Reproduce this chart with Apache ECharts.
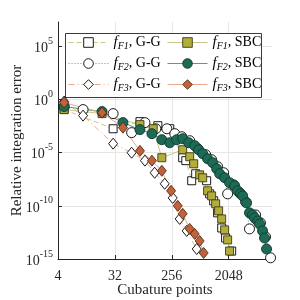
<!DOCTYPE html>
<html><head><meta charset="utf-8">
<script src="https://cdn.jsdelivr.net/npm/echarts@6/dist/echarts.min.js"></script>
<style>html,body{margin:0;padding:0;background:#fff}#c{width:300px;height:300px}</style>
</head><body><div id="c"></div>
<script>
const xTicks = [4, 32, 256, 2048];
const yTicks = [1e-15, 1e-10, 1e-5, 1, 1e5];

const f1ggN   = [5, 30, 80, 154, 238, 382, 428, 531, 614, 917, 1024, 1185, 1370, 1590, 1833, 2290];
const f1ggErr = [0.115, 1.8e-3, 8.4e-3, 3.5e-3, 1.8e-3, 3.4e-6, 1.8e-6, 2.3e-8, 1.05e-7, 2.3e-8, 1.35e-9, 3.0e-10, 2.2e-11, 8.3e-13, 9.5e-14, 5.6e-15];

const f2ggN   = [5, 10, 30, 59, 96, 143, 214, 286, 369, 494, 661, 885, 1100, 1370, 1709, 1975, 2456, 3060, 3800, 4390, 5485, 6565, 7900, 9485];
const f2ggErr = [0.22, 0.115, 0.048, 7.8e-4, 6.8e-3, 1.8e-3, 1.8e-3, 6.2e-4, 3.2e-4, 1.35e-4, 2.4e-5, 6.5e-6, 2.2e-6, 4.8e-7, 1.3e-7, 1.35e-9, 9.5e-9, 1.7e-9, 2.4e-10, 6.8e-13, 1.4e-11, 2.5e-12, 1.2e-13, 1.3e-15];

const f3ggN   = [5, 10, 30, 59, 96, 137, 198, 265, 342, 442, 638];
const f3ggErr = [0.65, 0.031, 7.1e-5, 1.0e-5, 1.8e-6, 1.3e-7, 1.2e-8, 5.6e-10, 5.9e-12, 4.4e-13, 8.7e-15];

const f1sbcN   = [5, 20, 80, 130, 178, 382, 494, 571, 710, 793, 949, 1100, 1276, 1420, 1587, 1770, 1975, 2120];
const f1sbcErr = [0.115, 0.048, 4.4e-3, 1.8e-3, 3.4e-6, 1.9e-5, 4.2e-6, 9.1e-7, 8.3e-8, 4.4e-8, 2.6e-9, 8.7e-10, 1.55e-10, 3.4e-11, 5.9e-12, 5.5e-13, 6.3e-14, 5.6e-15];

const f2sbcN   = [5, 20, 43, 80, 124, 178, 238, 307, 382, 475, 592, 685, 793, 949, 1144, 1322, 1475, 1770, 2120, 2553, 2840, 3170, 3420, 3950, 4390, 4907, 5290, 5912, 6340, 7080, 7600, 8192];
const f2sbcErr = [0.22, 0.074, 6.8e-3, 1.5e-3, 6.2e-4, 1.7e-4, 8.7e-5, 1.7e-4, 2.1e-4, 8.7e-5, 4.6e-5, 1.9e-5, 8.1e-6, 2.7e-6, 1.15e-6, 3.1e-7, 1.05e-7, 4.4e-8, 1.5e-8, 7.8e-9, 2.6e-9, 1.35e-9, 8.7e-10, 1.9e-10, 2.2e-11, 1.4e-11, 7.4e-12, 3.8e-12, 2.0e-12, 4.4e-13, 9.5e-14, 8.7e-15];

const f3sbcN   = [5, 20, 43, 80, 124, 178, 250, 319, 382, 494, 592, 710, 822];
const f3sbcErr = [0.52, 0.059, 2.3e-3, 1.5e-5, 1.8e-6, 2.0e-7, 2.6e-9, 1.0e-10, 1.8e-11, 6.8e-13, 2.3e-13, 5.0e-14, 3.7e-15];

function pairs(xs, ys) { return xs.map((x, i) => [x, ys[i]]); }

const FONT = 'Liberation Serif';
const C1 = '#b3ad3a', C1e = '#3d3b14', C1l = '#ccc68a';
const C2 = '#1d6b56', C2e = '#0e3a2d', C2l = '#5d9a88';
const C3 = '#c0623a', C3e = '#5b2b16', C3l = '#e6ab8e';

function mk(name, xs, ys, symbol, size, fill, edge, lcolor, ltype) {
  return {
    name, type: 'line', data: pairs(xs, ys), symbol, symbolSize: size,
    showAllSymbol: true, animation: false,
    itemStyle: { color: fill, borderColor: edge, borderWidth: 0.9 },
    lineStyle: { color: lcolor, width: 1, type: ltype },
    emphasis: { disabled: true }
  };
}

const labelMap = {
  'F1 G-G': ['F1', 'G-G'], 'F2 G-G': ['F2', 'G-G'], 'F3 G-G': ['F3', 'G-G'],
  'F1 SBC': ['F1', 'SBC'], 'F2 SBC': ['F2', 'SBC'], 'F3 SBC': ['F3', 'SBC']
};
const legendText = {
  fontFamily: FONT, fontSize: 14, color: '#000',
  rich: {
    i: { fontFamily: FONT, fontSize: 15, fontStyle: 'italic', color: '#000', lineHeight: 18 },
    sub: { fontFamily: FONT, fontSize: 10, fontStyle: 'italic', color: '#000', lineHeight: 10, verticalAlign: 'bottom' },
    t: { fontFamily: FONT, fontSize: 14, color: '#000', lineHeight: 18 }
  }
};
function legendFmt(name) {
  const p = labelMap[name];
  return '{i|f}{sub|' + p[0] + '}{t|, ' + p[1] + '}';
}
const legendBase = {
  orient: 'vertical', top: 35, padding: 0, itemWidth: 40, itemHeight: 12, itemGap: 4.5,
  formatter: legendFmt, textStyle: legendText, selectedMode: false,
  itemStyle: { borderWidth: 0.9 }, lineStyle: { width: 1 }
};

const chart = echarts.init(document.getElementById('c'), null, { renderer: 'canvas' });
chart.setOption({
  animation: false,
  backgroundColor: '#fff',
  grid: { left: 58, right: 28, top: 22, bottom: 41, outerBoundsMode: 'none' },
  graphic: [{
    type: 'rect', z: 1,
    shape: { x: 65.5, y: 33.5, width: 196, height: 64 },
    style: { fill: '#fff', stroke: '#3a3a3a', lineWidth: 1 }
  }],
  legend: [
    Object.assign({}, legendBase, { left: 68, data: ['F1 G-G', 'F2 G-G', 'F3 G-G'] }),
    Object.assign({}, legendBase, { left: 167, data: ['F1 SBC', 'F2 SBC', 'F3 SBC'] })
  ],
  xAxis: {
    type: 'log', logBase: 2, min: 4, max: 10000,
    name: 'Cubature points', nameLocation: 'middle', nameGap: 24, nameMoveOverlap: false,
    nameTextStyle: { fontFamily: FONT, fontSize: 15, color: '#262626' },
    axisLine: { show: true, lineStyle: { color: '#262626', width: 1 } },
    axisTick: { show: true, inside: true, length: 4, customValues: xTicks, lineStyle: { color: '#262626' } },
    axisLabel: { customValues: xTicks, fontFamily: FONT, fontSize: 14, color: '#262626', margin: 10,
      formatter: v => String(Math.round(v)) },
    splitLine: { show: true, lineStyle: { color: '#e6e6e6', width: 1 } },
    minorTick: { show: false }
  },
  yAxis: {
    type: 'log', logBase: 10, min: 1e-15, max: 2e7,
    name: 'Relative integration error', nameLocation: 'middle', nameGap: 33, nameMoveOverlap: false,
    nameTextStyle: { fontFamily: FONT, fontSize: 15, color: '#262626' },
    axisLine: { show: true, lineStyle: { color: '#262626', width: 1 } },
    axisTick: { show: true, inside: true, length: 4, customValues: yTicks, lineStyle: { color: '#262626' } },
    axisLabel: {
      customValues: yTicks, margin: 5, color: '#262626',
      formatter: v => '{b|10}{s|' + Math.round(Math.log10(v)) + '}',
      rich: {
        b: { fontFamily: FONT, fontSize: 14, color: '#262626', lineHeight: 20, padding: [4, 0, 0, 0] },
        s: { fontFamily: FONT, fontSize: 10, color: '#262626', lineHeight: 10, verticalAlign: 'top' }
      }
    },
    splitLine: { show: true, lineStyle: { color: '#e6e6e6', width: 1 } }
  },
  series: [
    mk('F1 G-G', f1ggN, f1ggErr, 'rect', 8, '#fff', '#000', C1l, [5, 3]),
    mk('F2 G-G', f2ggN, f2ggErr, 'circle', 10, '#fff', '#000', C2l, [1, 2]),
    mk('F3 G-G', f3ggN, f3ggErr, 'diamond', [9, 11], '#fff', '#000', C3l, [6, 3, 1, 3]),
    mk('F1 SBC', f1sbcN, f1sbcErr, 'rect', 8, C1, C1e, C1l, 'solid'),
    mk('F2 SBC', f2sbcN, f2sbcErr, 'circle', 10, C2, C2e, C2l, 'solid'),
    mk('F3 SBC', f3sbcN, f3sbcErr, 'diamond', [9, 11], C3, C3e, C3l, 'solid')
  ]
});
</script>
</body></html>
